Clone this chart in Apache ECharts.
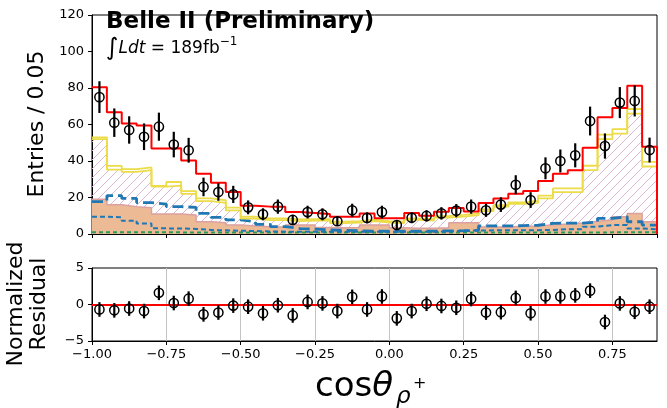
<!DOCTYPE html>
<html>
<head>
<meta charset="utf-8">
<script src="https://cdn.jsdelivr.net/npm/echarts@6/dist/echarts.min.js"></script>
<style>
  html, body { margin: 0; padding: 0; background: #fff; }
  #main { width: 667px; height: 408px; }
</style>
</head>
<body>
<div id="main"></div>
<script>
// binning of cos(theta_rho+)
var xMin = -1.0, xMax = 0.9, binW = 0.05, nBins = 38;
var xTicks = [-1.0, -0.75, -0.5, -0.25, 0.0, 0.25, 0.5, 0.75];

// data points (entries / 0.05) and their errors
var dataVals = [75, 61, 57, 53.3, 58.8, 49, 45.9, 25.8, 23, 21.7, 14.6, 10.8, 15, 7.7, 12, 10.8, 7, 13, 8.8,
  12, 4.9, 8.9, 9.9, 11.3, 12.8, 15, 13, 16.1, 27, 18.6, 36, 40, 43.1, 61.9, 48.2, 72, 72.9, 46];
var dataErr = [8.7, 7.8, 7.5, 7.3, 7.7, 7, 6.8, 5.1, 4.8, 4.7, 3.8, 3.3, 3.9, 2.8, 3.5, 3.3, 2.6, 3.6, 3,
  3.5, 2.2, 3, 3.1, 3.4, 3.6, 3.9, 3.6, 4, 5.2, 4.3, 6, 6.3, 6.6, 7.9, 6.9, 8.5, 8.5, 6.8];

// fit total (red)
var totalFit = [80.4, 66.7, 60.5, 59.4, 46.8, 47, 40.3, 33, 28.1, 23, 15.5, 15, 15, 12, 11.5, 11, 9.5, 9.5, 11.3,
  8.6, 8.6, 11.5, 10, 12.2, 14.2, 12.3, 17, 19.5, 22, 23.5, 29, 33, 35, 47.3, 64, 69, 81.3, 47.8];

// signal components (yellow, upper and lower), lower one is the hatched stack
var yellowHi = [53, 37.3, 35.5, 36.5, 26.3, 28.5, 23.5, 19.5, 18.5, 14.5, 9.5, 8.6, 8.5, 8, 8.2, 8.2, 6.8, 7, 7.8,
  7, 6.8, 8.6, 8.2, 9.8, 10.5, 11.3, 13.5, 15.8, 17.3, 18.2, 21, 25, 25, 37.4, 54.5, 57.5, 68.5, 39.5];
var yellowLo = [52, 35.3, 34, 35, 26, 26.5, 22, 18, 17, 13, 8.5, 7.6, 7.6, 7, 7.4, 7.4, 6, 6.2, 7,
  6.3, 6, 7.8, 7.4, 9, 9.5, 10.3, 12.5, 15, 16.5, 17, 19.5, 23, 23, 35, 52, 55, 66, 37];

// background (orange filled)
var bkgOrange = [19, 16, 15, 14.4, 11, 11, 10.4, 6.7, 6.2, 5, 4.4, 4, 3.8, 5, 5, 3.6, 3.4, 3.6, 5,
  5, 3.4, 3.2, 3.2, 3.4, 6.2, 6.2, 3.8, 3.8, 4.2, 4.4, 5, 5.5, 6, 7, 7.7, 9.5, 11.3, 6.7];

// other components (dashed)
var blueLong = [17.7, 21, 19.5, 17.2, 16.4, 15, 14.6, 11.3, 9.1, 7.7, 6.7, 5.3, 4, 3, 2.7, 2.2, 2, 1.8, 1.6,
  1.5, 1.5, 1.6, 1.6, 1.7, 1.8, 2, 4.4, 4.4, 4.6, 4.8, 5.8, 6, 6, 6.6, 8.6, 9.5, 6.7, 4.9];
var blueShort = [9.5, 9.1, 7.3, 5.8, 3.1, 3, 2.8, 2.2, 2, 1.8, 1.6, 1.4, 1.3, 1.3, 1.2, 1.2, 1.2, 1.2, 1.2,
  1.2, 1.2, 1.2, 1.3, 1.4, 1.8, 1.9, 2, 2, 2, 2.1, 2.2, 2.6, 2.6, 4, 4.9, 4.9, 3, 2.6];
var greenDash = [1, 1, 1, 0.9, 0.9, 0.9, 0.8, 0.8, 0.8, 0.8, 0.8, 0.8, 0.8, 0.8, 0.8, 0.8, 0.8, 0.8, 0.8,
  0.8, 0.8, 0.8, 0.8, 0.8, 0.8, 0.8, 0.8, 0.8, 0.8, 0.8, 0.8, 0.8, 0.8, 0.8, 0.9, 0.9, 0.9, 0.9];

// normalized residuals
var residVals = [-0.68, -0.8, -0.55, -0.9, 1.6, 0.2, 0.8, -1.35, -1.1, -0.15, -0.3, -1.2, -0.1, -1.5, 0.35, 0.15,
  -0.9, 1.05, -0.68, 1.1, -1.9, -0.9, 0.1, -0.2, -0.45, 0.75, -1.1, -1.05, 0.9, -1.2, 1.1, 1.1, 1.25, 1.9,
  -2.4, 0.15, -1.0, -0.3];
var residErr = 1;

var FONT = 'DejaVu Sans';

var edges = [];
for (var i = 0; i <= nBins; i++) edges.push(+(xMin + i * binW).toFixed(3));
var centers = [];
for (var j = 0; j < nBins; j++) centers.push(+(xMin + (j + 0.5) * binW).toFixed(3));

// histogram outline points from bin values
function steps(vals) {
  var pts = [];
  vals.forEach(function (v, k) {
    pts.push([edges[k], v], [edges[k + 1], v]);
  });
  return pts;
}

// hatch pattern
var hatch = document.createElement('canvas');
hatch.width = 9; hatch.height = 9;
var hc = hatch.getContext('2d');
hc.strokeStyle = '#dcb6d4';
hc.lineWidth = 1;
hc.beginPath();
hc.moveTo(0, 9); hc.lineTo(9, 0);
hc.moveTo(-1, 1); hc.lineTo(1, -1);
hc.moveTo(8, 10); hc.lineTo(10, 8);
hc.stroke();

function stepLine(vals, color, width, type, z) {
  return {
    type: 'line', xAxisIndex: 0, yAxisIndex: 0, data: steps(vals),
    symbol: 'none', z: z, silent: true,
    lineStyle: { color: color, width: width, type: type }
  };
}

function errRender(params, api) {
  var x = api.value(0), y = api.value(1), e = api.value(2);
  var c = api.coord([x, y]);
  var hi = api.coord([x, y + e]);
  var lo = api.coord([x, y - e]);
  return {
    type: 'group',
    children: [
      { type: 'line', shape: { x1: c[0], y1: hi[1], x2: c[0], y2: lo[1] },
        style: { stroke: '#000', lineWidth: 2.2 } },
      { type: 'circle', shape: { cx: c[0], cy: c[1], r: 4.6 },
        style: { stroke: '#000', fill: 'none', lineWidth: 1.5 } }
    ]
  };
}

var minus = function (s) { return String(s).replace('-', '\u2212'); };

var chart = echarts.init(document.getElementById('main'), null, { renderer: 'canvas' });

var redLine = steps(totalFit);
redLine.push([xMax, 0]);

var axisLine = { show: true, onZero: false, lineStyle: { color: '#000', width: 1 } };
var axisTick = { show: true, inside: false, length: 4, lineStyle: { color: '#000' } };

chart.setOption({
  animation: false,
  backgroundColor: '#fff',
  textStyle: { fontFamily: FONT },
  grid: [
    { left: 92, top: 15, width: 565, height: 219, show: true, borderColor: '#000', borderWidth: 1 },
    { left: 92, top: 268, width: 565, height: 73, show: true, borderColor: '#000', borderWidth: 1 }
  ],
  xAxis: [
    {
      type: 'value', gridIndex: 0, min: xMin, max: xMax, interval: 0.25,
      axisLine: axisLine, axisTick: axisTick,
      axisLabel: { show: false },
      splitLine: { show: false }
    },
    {
      type: 'value', gridIndex: 1, min: xMin, max: xMax, interval: 0.25,
      axisLine: axisLine, axisTick: axisTick,
      axisLabel: {
        show: true, color: '#000', fontSize: 13, fontFamily: FONT, margin: 7,
        showMaxLabel: false,
        formatter: function (v) { return xTicks.indexOf(v) >= 0 ? minus(v.toFixed(2)) : ''; }
      },
      splitLine: { show: true, showMinLine: false, showMaxLine: false, lineStyle: { color: '#c4c4c4', width: 1 } }
    }
  ],
  yAxis: [
    {
      type: 'value', gridIndex: 0, min: 0, max: 120, interval: 20,
      axisLine: axisLine, axisTick: axisTick,
      axisLabel: { color: '#000', fontSize: 13, fontFamily: FONT, margin: 8 },
      splitLine: { show: false }
    },
    {
      type: 'value', gridIndex: 1, min: -5, max: 5, interval: 5,
      axisLine: axisLine, axisTick: axisTick,
      axisLabel: { color: '#000', fontSize: 13, fontFamily: FONT, margin: 8, formatter: minus },
      splitLine: { show: false }
    }
  ],
  series: [
    {
      type: 'line', xAxisIndex: 0, yAxisIndex: 0, data: steps(yellowLo), symbol: 'none', z: 1,
      lineStyle: { width: 0 },
      areaStyle: { color: { image: hatch, repeat: 'repeat' }, opacity: 1 }
    },
    {
      type: 'line', xAxisIndex: 0, yAxisIndex: 0, data: steps(bkgOrange), symbol: 'none', z: 2,
      lineStyle: { color: '#dba0a0', width: 1.5 },
      areaStyle: { color: '#edba96', opacity: 1 }
    },
    stepLine(greenDash, '#2a9a5a', 2, [4, 3], 3),
    stepLine(blueShort, '#1f77b4', 2, [5, 3], 4),
    stepLine(blueLong, '#1f77b4', 2.8, [11, 5], 5),
    stepLine(yellowLo, '#ebdc48', 1.8, 'solid', 6),
    stepLine(yellowHi, '#ebdc48', 1.8, 'solid', 6),
    {
      type: 'line', xAxisIndex: 0, yAxisIndex: 0, data: redLine, symbol: 'none', z: 7,
      lineStyle: { color: '#ff0000', width: 2 }
    },
    {
      type: 'custom', xAxisIndex: 0, yAxisIndex: 0, z: 8,
      data: centers.map(function (c, k) { return [c, dataVals[k], dataErr[k]]; }),
      encode: { x: 0, y: 1 },
      renderItem: errRender
    },
    {
      type: 'custom', xAxisIndex: 1, yAxisIndex: 1, z: 8,
      data: centers.map(function (c, k) { return [c, residVals[k], residErr]; }),
      encode: { x: 0, y: 1 },
      renderItem: errRender,
      markLine: {
        silent: true, symbol: 'none', label: { show: false },
        lineStyle: { color: '#ff0000', width: 2, type: 'solid' },
        data: [{ yAxis: 0 }]
      }
    }
  ],
  graphic: [
    {
      type: 'text', left: 106, top: 11, z: 20,
      style: { text: 'Belle II (Preliminary)', font: 'bold 23px "DejaVu Sans"', fill: '#000' }
    },
    {
      type: 'text', left: 106, top: 36, z: 20,
      style: {
        text: '{i|\u222B}{a|Ldt}{b| = 189fb}{s|\u22121}',
        fill: '#000',
        rich: {
          i: { fontSize: 24, fontFamily: FONT, fill: '#000', lineHeight: 26 },
          a: { fontSize: 17, fontFamily: FONT, fontStyle: 'italic', fill: '#000' },
          b: { fontSize: 17, fontFamily: FONT, fill: '#000' },
          s: { fontSize: 12, fontFamily: FONT, fill: '#000', verticalAlign: 'top' }
        }
      }
    },
    {
      type: 'text', x: 37, y: 124, rotation: Math.PI / 2, z: 20,
      style: { text: 'Entries / 0.05', font: '22px "DejaVu Sans"', fill: '#000', align: 'center', verticalAlign: 'middle' }
    },
    {
      type: 'text', x: 16, y: 304, rotation: Math.PI / 2, z: 20,
      style: { text: 'Normalized', font: '22px "DejaVu Sans"', fill: '#000', align: 'center', verticalAlign: 'middle' }
    },
    {
      type: 'text', x: 39, y: 304, rotation: Math.PI / 2, z: 20,
      style: { text: 'Residual', font: '22px "DejaVu Sans"', fill: '#000', align: 'center', verticalAlign: 'middle' }
    },
    {
      type: 'text', left: 315, top: 370, z: 20,
      style: {
        text: '{a|cos}{b|\u03B8}',
        rich: {
          a: { fontSize: 34, fontFamily: FONT, fill: '#000' },
          b: { fontSize: 34, fontFamily: FONT, fontStyle: 'italic', fill: '#000' }
        }
      }
    },
    {
      type: 'text', x: 396, y: 397, z: 20,
      style: { text: '\u03C1', font: 'italic 23px "DejaVu Sans"', fill: '#000', align: 'left', verticalAlign: 'middle' }
    },
    {
      type: 'text', x: 413, y: 384, z: 20,
      style: { text: '+', font: '16px "DejaVu Sans"', fill: '#000', align: 'left', verticalAlign: 'middle' }
    }
  ]
});
</script>
</body>
</html>
